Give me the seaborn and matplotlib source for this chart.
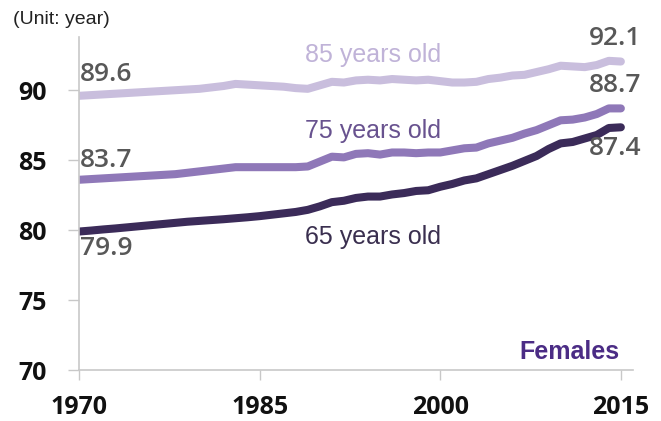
import pandas as pd
import matplotlib
matplotlib.use('Agg')
import matplotlib.pyplot as plt
import seaborn as sns

# Данные: ожидаемая продолжительность жизни женщин (по годам)
years = list(range(1970, 2016))
age85 = [89.6, 89.65, 89.7, 89.75, 89.8, 89.85, 89.9, 89.95, 90.0, 90.05,
         90.1, 90.2, 90.3, 90.45, 90.4, 90.35, 90.3, 90.25, 90.15, 90.1,
         90.35, 90.6, 90.55, 90.7, 90.75, 90.7, 90.8, 90.75, 90.7, 90.75,
         90.65, 90.55, 90.55, 90.6, 90.8, 90.9, 91.05, 91.1, 91.3, 91.5,
         91.75, 91.7, 91.65, 91.8, 92.1, 92.05]
age75 = [83.6, 83.65, 83.7, 83.75, 83.8, 83.85, 83.9, 83.95, 84.0, 84.1,
         84.2, 84.3, 84.4, 84.5, 84.5, 84.5, 84.5, 84.5, 84.5, 84.55,
         84.9, 85.25, 85.2, 85.45, 85.5, 85.4, 85.55, 85.55, 85.5, 85.55,
         85.55, 85.7, 85.85, 85.9, 86.2, 86.4, 86.6, 86.9, 87.15, 87.5,
         87.85, 87.9, 88.05, 88.3, 88.7, 88.7]
age65 = [79.9, 79.97, 80.05, 80.12, 80.2, 80.28, 80.36, 80.44, 80.52, 80.6,
         80.66, 80.72, 80.78, 80.85, 80.92, 81.0, 81.1, 81.2, 81.3, 81.45,
         81.7, 82.0, 82.1, 82.3, 82.4, 82.4, 82.55, 82.65, 82.8, 82.85,
         83.1, 83.3, 83.55, 83.7, 84.0, 84.3, 84.6, 84.95, 85.3, 85.8,
         86.2, 86.3, 86.55, 86.8, 87.3, 87.35]
series = ['85 years old', '75 years old', '65 years old']
start_labels = ['89.6', '83.7', '79.9']
end_labels = ['92.1', '88.7', '87.4']
xticks = [1970, 1985, 2000, 2015]
yticks = [70, 75, 80, 85, 90]

colors = {'85 years old': '#c9bedd', '75 years old': '#8f78b8', '65 years old': '#3b2b59'}
label_colors = {'85 years old': '#c0b3d8', '75 years old': '#68528f', '65 years old': '#3a2f4f'}

df = pd.DataFrame({
    'year': years * 3,
    'value': age85 + age75 + age65,
    'series': [series[0]] * len(years) + [series[1]] * len(years) + [series[2]] * len(years),
})

sns.set_style('white')
plt.rcParams['font.family'] = ['Liberation Sans', 'DejaVu Sans']

fig = plt.figure(figsize=(6.61, 4.21), dpi=100)
ax = fig.add_axes([0.1195, 0.121, 0.838, 0.791])

sns.lineplot(data=df, x='year', y='value', hue='series', palette=colors,
             linewidth=5.8, legend=False, ax=ax, solid_capstyle='round')

ax.set_xlim(1970, 2016)
ax.set_ylim(70, 93.8)
ax.set_xticks(xticks)
ax.set_yticks(yticks)
ax.set_xlabel('')
ax.set_ylabel('')

for side in ['top', 'right']:
    ax.spines[side].set_visible(False)
for side in ['left', 'bottom']:
    ax.spines[side].set_color('#c8c8c8')
    ax.spines[side].set_linewidth(1.2)

ax.tick_params(axis='y', left=True, length=8, width=1, color='#c8c8c8', pad=15)
ax.tick_params(axis='x', bottom=True, length=7, width=1, color='#c8c8c8', pad=11)
for lab in ax.get_yticklabels() + ax.get_xticklabels():
    lab.set_fontfamily('Open Sans')
    lab.set_fontweight('bold')
    lab.set_fontsize(18)
    lab.set_color('#111111')

# Подписи значений (положения)
num_font = dict(fontfamily='Open Sans', fontsize=19, fontweight='semibold', color='#585858')
ax.text(1970.1, 91.15, start_labels[0], ha='left', va='center', **num_font)
ax.text(1970.1, 85.0, start_labels[1], ha='left', va='center', **num_font)
ax.text(1970.1, 78.7, start_labels[2], ha='left', va='center', **num_font)
ax.text(2016.7, 93.7, end_labels[0], ha='right', va='center', **num_font)
ax.text(2016.7, 90.35, end_labels[1], ha='right', va='center', **num_font)
ax.text(2016.7, 85.8, end_labels[2], ha='right', va='center', **num_font)

# Подписи серий
ax.text(1988.8, 92.5, series[0], ha='left', va='center', fontsize=18,
        color=label_colors[series[0]])
ax.text(1988.8, 87.05, series[1], ha='left', va='center', fontsize=18,
        color=label_colors[series[1]])
ax.text(1988.8, 79.5, series[2], ha='left', va='center', fontsize=18,
        color=label_colors[series[2]])
ax.text(2014.9, 71.3, 'Females', ha='right', va='center', fontsize=18,
        fontweight='bold', color='#4b2c85')

fig.text(13 / 661, 1 - 20 / 421, '(Unit: year)', ha='left', va='center',
         fontsize=14, color='#222222')

plt.savefig('out.png', dpi=100)
plt.close()
